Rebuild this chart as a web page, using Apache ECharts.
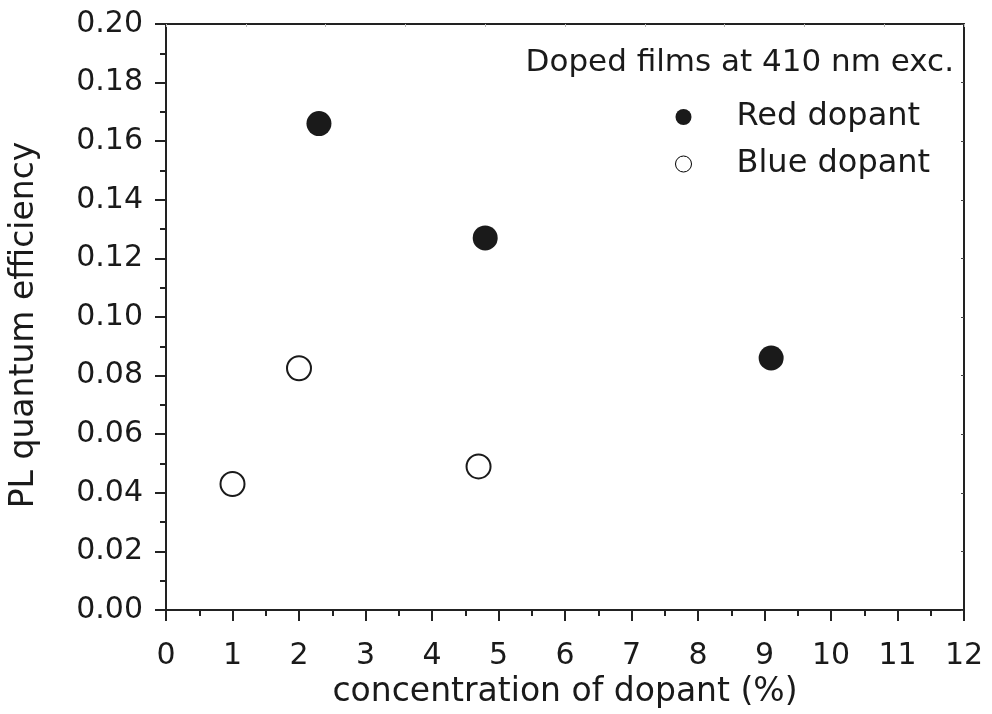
<!DOCTYPE html>
<html>
<head>
<meta charset="UTF-8">
<title>PL quantum efficiency</title>
<style>
  html, body { margin: 0; padding: 0; background: #fff; }
  #chart { width: 992px; height: 714px; }
</style>
</head>
<body>
<div id="chart"></div>
<script src="https://cdn.jsdelivr.net/npm/echarts@6/dist/echarts.min.js"></script>
<script>
// concentration (%) and PL quantum efficiency
var redX = [2.3, 4.8, 9.1];
var redY = [0.166, 0.127, 0.086];
var blueX = [1.0, 2.0, 4.7];
var blueY = [0.043, 0.0825, 0.049];

var font = '"DejaVu Sans", sans-serif';

function pairs(xs, ys) {
  var out = [];
  for (var i = 0; i < xs.length; i++) out.push([xs[i], ys[i]]);
  return out;
}

var chart = echarts.init(document.getElementById('chart'));
chart.setOption({
  backgroundColor: '#fff',
  animation: false,
  textStyle: { fontFamily: font, color: '#1a1a1a' },
  graphic: [{
    type: 'text',
    right: 38,
    top: 47,
    style: { text: 'Doped films at 410 nm exc.', font: '31px ' + font, fill: '#1a1a1a' }
  }],
  legend: {
    orient: 'vertical',
    left: 670,
    top: 96,
    itemWidth: 16,
    itemHeight: 16,
    itemGap: 15,
    data: [
      { name: 'Red dopant', icon: 'circle' },
      { name: 'Blue dopant', icon: 'circle', itemStyle: { color: '#fff', borderColor: '#000', borderWidth: 1 } }
    ],
    textStyle: { fontSize: 32, fontFamily: font, color: '#1a1a1a', padding: [0, 0, 0, 40], lineHeight: 32 }
  },
  grid: { left: 166, top: 24, right: 28, bottom: 104 },
  xAxis: [{
    type: 'value',
    min: 0, max: 12, interval: 1,
    position: 'bottom',
    name: 'concentration of dopant (%)',
    nameLocation: 'middle',
    nameGap: 64,
    nameTextStyle: { fontSize: 33, fontFamily: font, color: '#1a1a1a' },
    axisLine: { onZero: false, lineStyle: { color: '#222', width: 2 } },
    axisTick: { inside: false, length: 11, lineStyle: { color: '#222', width: 2 } },
    minorTick: { show: true, splitNumber: 2, length: 6, lineStyle: { color: '#222', width: 2 } },
    axisLabel: { fontSize: 30, margin: 31, color: '#1a1a1a' },
    splitLine: { show: false }
  }, {
    type: 'value',
    min: 0, max: 12, interval: 1.2,
    position: 'top',
    axisLine: { onZero: false, lineStyle: { color: '#222', width: 2 } },
    axisTick: { inside: true, length: 3, lineStyle: { color: '#bbb', width: 1 } },
    axisLabel: { show: false },
    splitLine: { show: false }
  }],
  yAxis: [{
    type: 'value',
    min: 0, max: 0.2, interval: 0.02,
    position: 'left',
    name: 'PL quantum efficiency',
    nameLocation: 'middle',
    nameGap: 125,
    nameRotate: 90,
    nameTextStyle: { fontSize: 33, fontFamily: font, color: '#1a1a1a', padding: [0, 16, 0, 0] },
    axisLine: { onZero: false, lineStyle: { color: '#222', width: 2 } },
    axisTick: { inside: false, length: 11, lineStyle: { color: '#222', width: 2 } },
    minorTick: { show: true, splitNumber: 2, length: 6, lineStyle: { color: '#222', width: 2 } },
    axisLabel: { fontSize: 30, margin: 23, color: '#1a1a1a', formatter: function (v) { return v.toFixed(2); } },
    splitLine: { show: false }
  }, {
    type: 'value',
    min: 0, max: 0.2, interval: 0.02,
    position: 'right',
    axisLine: { onZero: false, lineStyle: { color: '#222', width: 2 } },
    axisTick: { inside: true, length: 3, lineStyle: { color: '#444', width: 1 } },
    axisLabel: { show: false },
    splitLine: { show: false }
  }],
  series: [{
    name: 'Red dopant',
    type: 'scatter',
    symbol: 'circle',
    symbolSize: 25,
    itemStyle: { color: '#1a1a1a', opacity: 1 },
    data: pairs(redX, redY)
  }, {
    name: 'Blue dopant',
    type: 'scatter',
    symbol: 'circle',
    symbolSize: 24,
    itemStyle: { color: '#fff', borderColor: '#1a1a1a', borderWidth: 2, opacity: 1 },
    data: pairs(blueX, blueY)
  }]
});
</script>
</body>
</html>
